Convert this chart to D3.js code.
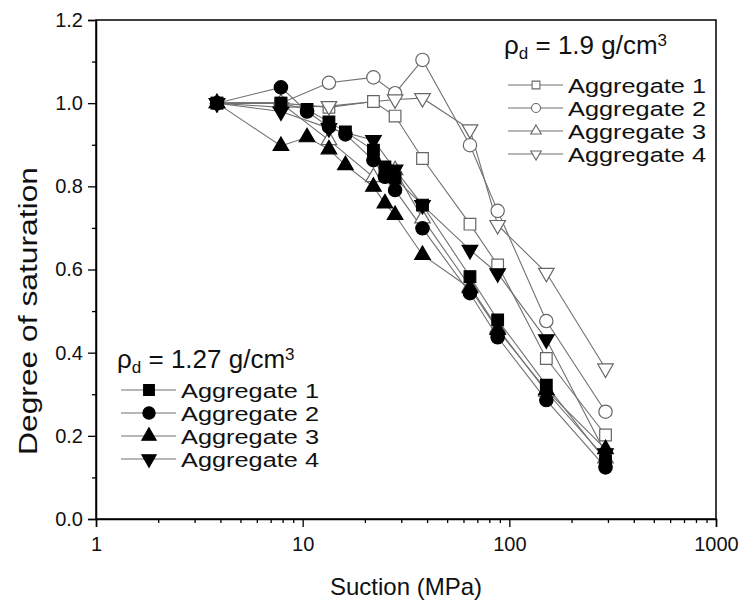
<!DOCTYPE html>
<html>
<head>
<meta charset="utf-8">
<script src="https://cdn.jsdelivr.net/npm/d3@7"></script>
<style>
  body { margin: 0; background: #fff; }
  svg { font-family: Arial, "Liberation Sans", sans-serif; }
</style>
</head>
<body>
<div id="chart"></div>
<script>
// Suction values (MPa) and degree of saturation
const agg1Dense = [[3.85,1.0],[7.85,1.0],[13.4,0.99],[22,1.004],[28,0.969],[38,0.867],[64.5,0.709],[87.8,0.611],[151,0.386],[292,0.202]];
const agg2Dense = [[3.85,1.0],[7.85,1.0],[13.4,1.049],[22,1.062],[28,1.024],[38,1.104],[64.5,0.899],[87.8,0.741],[151,0.476],[292,0.258]];
const agg3Dense = [[3.85,1.0],[7.85,1.0],[13.4,0.911],[22,0.822],[28,0.839],[38,0.723],[64.5,0.559],[87.8,0.459],[151,0.306],[292,0.146]];
const agg4Dense = [[3.85,1.0],[7.85,0.99],[13.4,0.993],[28,1.009],[38,1.012],[64.5,0.937],[87.8,0.707],[151,0.592],[292,0.362]];

const agg1Loose = [[3.85,1.0],[7.85,1.0],[10.5,0.985],[13.4,0.955],[16.1,0.931],[22,0.887],[25,0.847],[28,0.82],[38,0.755],[64.5,0.583],[87.8,0.479],[151,0.322],[292,0.14]];
const agg2Loose = [[3.85,1.0],[7.85,1.038],[10.5,0.98],[13.4,0.943],[16.1,0.925],[22,0.863],[25,0.823],[28,0.791],[38,0.699],[64.5,0.543],[87.8,0.437],[151,0.286],[292,0.124]];
const agg3Loose = [[3.85,1.0],[7.85,0.897],[10.5,0.918],[13.4,0.889],[16.1,0.851],[22,0.799],[25,0.759],[28,0.731],[38,0.635],[64.5,0.555],[87.8,0.455],[151,0.31],[292,0.168]];
const agg4Loose = [[3.85,1.0],[7.85,0.98],[13.4,0.94],[22,0.911],[28,0.84],[38,0.755],[64.5,0.647],[87.8,0.591],[151,0.432],[292,0.158]];

const seriesNames = ["Aggregate 1", "Aggregate 2", "Aggregate 3", "Aggregate 4"];
const xTicks = [1, 10, 100, 1000];
const yTicks = [0, 0.2, 0.4, 0.6, 0.8, 1.0, 1.2];

const W = 743, H = 605;
const margin = { left: 96, right: 27, top: 20, bottom: 86 };

const svg = d3.select("#chart").append("svg").attr("width", W).attr("height", H);

const x = d3.scaleLog().domain([1, 1000]).range([margin.left, W - margin.right]);
const y = d3.scaleLinear().domain([0, 1.2]).range([H - margin.bottom, margin.top]);

const shapes = [
  { type: d3.symbolSquare, size: 135, rot: 0 },
  { type: d3.symbolCircle, size: 140, rot: 0 },
  { type: d3.symbolTriangle, size: 105, rot: 0 },
  { type: d3.symbolTriangle, size: 105, rot: 180 }
];

const groups = [
  { name: "dense", data: [agg1Dense, agg2Dense, agg3Dense, agg4Dense], fill: "#fff", stroke: "#666" },
  { name: "loose", data: [agg1Loose, agg2Loose, agg3Loose, agg4Loose], fill: "#000", stroke: "#000" }
];

const line = d3.line().x(d => x(d[0])).y(d => y(d[1]));

// lines first, then markers
groups.forEach(g => {
  g.data.forEach(s => {
    svg.append("path").attr("d", line(s))
      .attr("fill", "none").attr("stroke", "#707070").attr("stroke-width", 1.1);
  });
});
groups.forEach(g => {
  g.data.forEach((s, i) => {
    const sh = shapes[i];
    svg.append("g").selectAll("path").data(s).join("path")
      .attr("d", d3.symbol().type(sh.type).size(sh.size))
      .attr("transform", d => `translate(${x(d[0])},${y(d[1])}) rotate(${sh.rot})`)
      .attr("fill", g.fill).attr("stroke", g.stroke).attr("stroke-width", 1.2);
  });
});

// frame
svg.append("rect")
  .attr("x", margin.left).attr("y", margin.top)
  .attr("width", W - margin.left - margin.right).attr("height", H - margin.top - margin.bottom)
  .attr("fill", "none").attr("stroke", "#000").attr("stroke-width", 1.5);

// x axis
const minorX = [];
for (let d = 1; d < 1000; d *= 10) for (let k = 2; k <= 9; k++) minorX.push(d * k);

svg.append("g").attr("transform", `translate(0,${y(0)})`)
  .call(d3.axisBottom(x).tickValues(xTicks).tickFormat(d3.format("d")).tickSize(8).tickPadding(10));
svg.append("g").attr("transform", `translate(0,${y(0)})`)
  .call(d3.axisBottom(x).tickValues(minorX).tickFormat("").tickSize(4))
  .call(g => g.select(".domain").remove());

// y axis
const minorY = [0.1, 0.3, 0.5, 0.7, 0.9, 1.1];
svg.append("g").attr("transform", `translate(${x(1)},0)`)
  .call(d3.axisLeft(y).tickValues(yTicks).tickFormat(d3.format(".1f")).tickSize(8).tickPadding(5));
svg.append("g").attr("transform", `translate(${x(1)},0)`)
  .call(d3.axisLeft(y).tickValues(minorY).tickFormat("").tickSize(4))
  .call(g => g.select(".domain").remove());

svg.selectAll(".domain").attr("stroke-width", 1.5);
svg.selectAll(".tick line").attr("stroke-width", 1.3);
svg.selectAll(".tick text").attr("font-size", 20).attr("fill", "#111")
  .attr("font-family", "Arial, 'Liberation Sans', sans-serif");

// axis titles
svg.append("text")
  .attr("x", (x(1) + x(1000)) / 2).attr("y", 595)
  .attr("text-anchor", "middle").attr("font-size", 24).attr("fill", "#111")
  .text("Suction (MPa)");
svg.append("text")
  .attr("transform", `translate(37,311) rotate(-90)`)
  .attr("text-anchor", "middle").attr("font-size", 25).attr("fill", "#111")
  .attr("textLength", 288).attr("lengthAdjust", "spacingAndGlyphs")
  .text("Degree of saturation");

// legends
function legend(gx, gy, rowY, label, group, symScale) {
  const lg = svg.append("g").attr("transform", `translate(${gx},0)`);
  const t = lg.append("text").attr("x", -4).attr("y", gy).attr("font-size", 26).attr("fill", "#111");
  t.append("tspan").text("ρ");
  t.append("tspan").attr("baseline-shift", "-30%").attr("font-size", 17).text("d");
  t.append("tspan").text(" = " + label + " g/cm");
  t.append("tspan").attr("baseline-shift", "45%").attr("font-size", 17).text("3");
  seriesNames.forEach((name, i) => {
    const ry = rowY + i * 23;
    const sh = shapes[i];
    lg.append("line").attr("x1", 0).attr("x2", 55).attr("y1", ry).attr("y2", ry)
      .attr("stroke", "#707070").attr("stroke-width", 1.1);
    lg.append("path")
      .attr("d", d3.symbol().type(sh.type).size(sh.size * symScale))
      .attr("transform", `translate(28,${ry}) rotate(${sh.rot})`)
      .attr("fill", group.fill).attr("stroke", group.stroke).attr("stroke-width", 1.1);
    lg.append("text").attr("x", 60).attr("y", ry + 7.5).attr("font-size", 20.5).attr("fill", "#111")
      .attr("textLength", 138).attr("lengthAdjust", "spacingAndGlyphs").text(name);
  });
}
legend(508, 54, 85, "1.9", groups[0], 0.45);
legend(121, 368, 390, "1.27", groups[1], 0.85);
</script>
</body>
</html>
